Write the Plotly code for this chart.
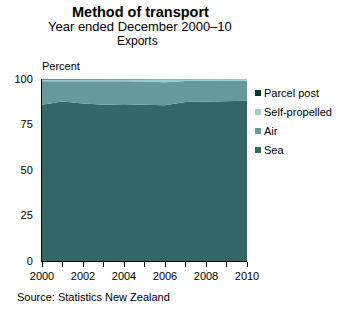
import plotly.graph_objects as go

years = list(range(2000, 2011))
sea = [85.8, 87.6, 86.6, 85.9, 86.1, 86.0, 85.6, 87.3, 87.6, 87.7, 88.1]
air = [13.0, 11.3, 12.3, 12.9, 12.7, 12.6, 12.6, 11.6, 11.4, 11.3, 11.0]
self_propelled = [0.9, 0.8, 0.8, 0.9, 0.9, 1.1, 1.5, 1.05, 0.95, 0.95, 0.85]
parcel_post = [0.3, 0.3, 0.3, 0.3, 0.3, 0.3, 0.3, 0.05, 0.05, 0.05, 0.05]

series_names = ["Sea", "Air", "Self-propelled", "Parcel post"]
series_values = [sea, air, self_propelled, parcel_post]
colors = ["#336666", "#669999", "#99cccc", "#003333"]

x_tickvals = years
x_ticktext = [str(y) if y % 2 == 0 else "" for y in years]
y_tickvals = [0, 25, 50, 75, 100]

W, H = 349, 334
L, R, T, B = 42, 247, 79, 261
FONT = "Liberation Sans, Arial, sans-serif"


def px(xp):
    return (xp - L) / (R - L)


def py(yp):
    return (B - yp) / (B - T)


fig = go.Figure()
for name, vals, col in zip(series_names, series_values, colors):
    fig.add_trace(go.Scatter(
        x=years, y=vals, name=name, mode="lines", stackgroup="one",
        line=dict(width=0, color=col), fillcolor=col, showlegend=False,
        hoverinfo="x+y+name",
    ))

annotations = [
    dict(text="<b>Method of transport</b>", x=px(140), y=py(12), font=dict(size=14.5, color="black")),
    dict(text="Year ended December 2000\u201310", x=px(140), y=py(27), font=dict(size=13, color="black")),
    dict(text="Exports", x=px(137), y=py(41), font=dict(size=12, color="black")),
]
for a in annotations:
    a.update(xref="paper", yref="paper", showarrow=False, xanchor="center", yanchor="middle")

annotations.append(dict(text="Percent", x=px(40), y=py(66), xref="paper", yref="paper",
                        showarrow=False, xanchor="left", yanchor="middle",
                        font=dict(size=11, color="black")))
annotations.append(dict(text="Source: Statistics New Zealand", x=px(15), y=py(297), xref="paper",
                        yref="paper", showarrow=False, xanchor="left", yanchor="middle",
                        font=dict(size=11, color="black")))

shapes = []
legend_y = [150, 131, 112, 93]
for name, col, ly in zip(series_names, colors, legend_y):
    shapes.append(dict(type="rect", xref="paper", yref="paper",
                       x0=px(255), x1=px(261), y0=py(ly + 3), y1=py(ly - 3),
                       fillcolor=col, line=dict(width=0)))
    annotations.append(dict(text=name, x=px(262), y=py(ly), xref="paper", yref="paper",
                            showarrow=False, xanchor="left", yanchor="middle",
                            font=dict(size=11, color="black")))

fig.update_layout(
    width=W, height=H,
    margin=dict(l=L, r=W - R, t=T, b=H - B, pad=0),
    paper_bgcolor="white", plot_bgcolor="white",
    font=dict(family=FONT, size=11, color="black"),
    showlegend=False,
    annotations=annotations,
    shapes=shapes,
    xaxis=dict(range=[2000, 2010], tickvals=x_tickvals, ticktext=x_ticktext,
               ticks="outside", ticklen=5, tickcolor="black", showline=True,
               linecolor="black", linewidth=1, showgrid=False, zeroline=False,
               tickfont=dict(size=11, color="black")),
    yaxis=dict(range=[0, 100], tickvals=y_tickvals, ticks="", showline=True,
               linecolor="black", linewidth=1, showgrid=False, zeroline=False,
               ticklabelstandoff=6, tickfont=dict(size=11, color="black")),
)

fig.write_html("out.html")
